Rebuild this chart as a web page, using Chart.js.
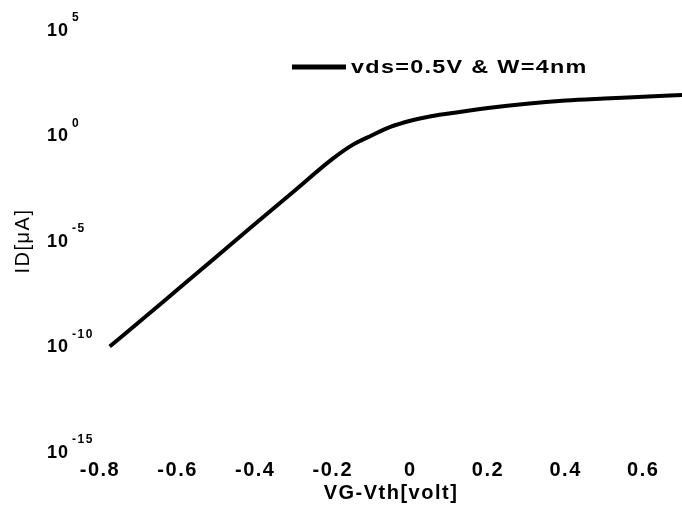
<!DOCTYPE html>
<html>
<head>
<meta charset="utf-8">
<script src="https://cdn.jsdelivr.net/npm/chart.js@4.4.1/dist/chart.umd.min.js"></script>
<style>
  html, body { margin: 0; padding: 0; background: #fff; }
  #wrap { width: 682px; height: 509px; }
</style>
</head>
<body>
<div id="wrap"><canvas id="chart" width="682" height="509"></canvas></div>
<script>
// values
const vg = [-0.775, -0.7, -0.6, -0.5, -0.4, -0.3, -0.2, -0.15, -0.1, -0.05, 0, 0.05, 0.1, 0.2, 0.3, 0.4, 0.5, 0.6, 0.7];
const idMicroAmp = [1e-10, 1.4e-9, 5e-8, 1.8e-6, 6.5e-5, 2.3e-3, 8e-2, 0.35, 1.0, 2.6, 5, 8, 11, 20, 32, 45, 56, 68, 83];
const xTicks = [-0.8, -0.6, -0.4, -0.2, 0, 0.2, 0.4, 0.6];
const xTickLabels = ["-0.8", "-0.6", "-0.4", "-0.2", "0", "0.2", "0.4", "0.6"];
const yTicks = [1e-15, 1e-10, 1e-5, 1e0, 1e5];
const yExponents = ["-15", "-10", "-5", "0", "5"];
const seriesLabel = "vds=0.5V & W=4nm";

const FONT = "'Liberation Sans', Arial, sans-serif";

// the scanned figure has wide-set lettering
const spacing = {
  id: "spacing",
  beforeUpdate(chart) { chart.ctx.letterSpacing = "1.5px"; },
  beforeDraw(chart) { chart.ctx.letterSpacing = "1.5px"; }
};

// y labels as 10 with a raised exponent, and the legend inside the plot
const decorations = {
  id: "decorations",
  afterDraw(chart) {
    const ctx = chart.ctx;
    const y = chart.scales.y;
    ctx.save();
    ctx.fillStyle = "#000";
    ctx.textBaseline = "middle";
    ctx.textAlign = "left";
    yTicks.forEach((v, i) => {
      const py = y.getPixelForValue(v);
      ctx.letterSpacing = "1px";
      ctx.font = "bold 18px " + FONT;
      ctx.fillText("10", 47, py + 1);
      ctx.letterSpacing = "1.5px";
      ctx.font = "bold 12px " + FONT;
      ctx.fillText(yExponents[i], 72, py - 12);
    });

    // legend (text stretched sideways like the scan)
    const ds = chart.data.datasets[0];
    ctx.strokeStyle = ds.borderColor;
    ctx.lineWidth = 5;
    ctx.beginPath();
    ctx.moveTo(292, 67);
    ctx.lineTo(346, 67);
    ctx.stroke();
    ctx.translate(351, 68);
    ctx.scale(1.3, 1);
    ctx.letterSpacing = "1px";
    ctx.font = "bold 18px " + FONT;
    ctx.fillText(ds.label, 0, 0);
    ctx.restore();
  }
};

new Chart(document.getElementById("chart"), {
  type: "line",
  data: {
    datasets: [{
      label: seriesLabel,
      data: vg.map((x, i) => ({ x: x, y: idMicroAmp[i] })),
      borderColor: "#000",
      borderWidth: 4,
      pointRadius: 0,
      cubicInterpolationMode: "monotone",
      fill: false
    }]
  },
  options: {
    responsive: false,
    animation: false,
    layout: { padding: { top: 30, right: 0, left: 0, bottom: 0 } },
    plugins: { legend: { display: false }, tooltip: { enabled: false } },
    scales: {
      x: {
        type: "linear",
        min: -0.8,
        max: 0.7,
        grid: { display: false, drawTicks: false },
        border: { display: false },
        afterBuildTicks: (s) => { s.ticks = xTicks.map(v => ({ value: v })); },
        afterFit: (s) => { s.height = 57; },
        ticks: {
          padding: 6,
          maxRotation: 0,
          autoSkip: false,
          color: "#000",
          font: { family: FONT, size: 20, weight: "bold" },
          callback: (v) => {
            const i = xTicks.findIndex(t => Math.abs(t - v) < 1e-9);
            return i >= 0 ? xTickLabels[i] : "";
          }
        },
        title: {
          display: true,
          text: "VG-Vth[volt]",
          color: "#000",
          font: { family: FONT, size: 20, weight: "bold" },
          padding: { top: 0, bottom: 4 }
        }
      },
      y: {
        type: "logarithmic",
        min: 1e-15,
        max: 1e5,
        grid: { display: false, drawTicks: false },
        border: { display: false },
        afterBuildTicks: (s) => { s.ticks = yTicks.map(v => ({ value: v })); },
        afterFit: (s) => { s.width = 100; },
        ticks: { display: false },
        title: {
          display: true,
          text: "ID[μA]",
          color: "#000",
          font: { family: FONT, size: 20 },
          padding: { top: 11, bottom: 0 }
        }
      }
    }
  },
  plugins: [spacing, decorations]
});
</script>
</body>
</html>
